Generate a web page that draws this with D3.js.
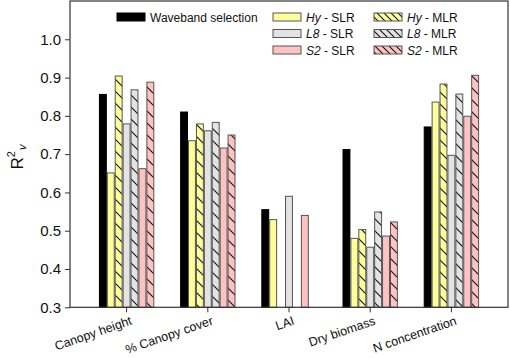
<!DOCTYPE html>
<html><head><meta charset="utf-8">
<script src="https://cdn.jsdelivr.net/npm/d3@7"></script>
<style>body{margin:0;background:#fff}svg{display:block}text{font-family:"Liberation Sans",Arial,sans-serif}</style>
</head><body>
<svg id="c" width="510" height="358"></svg>
<script>
const categories = ["Canopy height", "% Canopy cover", "LAI", "Dry biomass", "N concentration"];
const seriesKeys = ["wb", "hySLR", "hyMLR", "l8SLR", "l8MLR", "s2SLR", "s2MLR"];
const wb    = [0.856, 0.810, 0.555, 0.712, 0.771];
const hySLR = [0.651, 0.735, 0.529, 0.480, 0.836];
const hyMLR = [0.904, 0.779, null,  0.503, 0.883];
const l8SLR = [0.779, 0.761, 0.590, 0.457, 0.697];
const l8MLR = [0.868, 0.783, null,  0.549, 0.857];
const s2SLR = [0.662, 0.716, 0.540, 0.486, 0.799];
const s2MLR = [0.888, 0.750, null,  0.523, 0.906];
const yTicks = [0.3, 0.4, 0.5, 0.6, 0.7, 0.8, 0.9, 1.0];

const values = {wb, hySLR, hyMLR, l8SLR, l8MLR, s2SLR, s2MLR};
const fills = {wb:"#000000", hySLR:"#ffff99", hyMLR:"#ffff99", l8SLR:"#e3e3e3", l8MLR:"#e3e3e3", s2SLR:"#ffc2c2", s2MLR:"#ffc2c2"};
const hatched = {hyMLR:true, l8MLR:true, s2MLR:true};

const svg = d3.select("#c");
const L = 70, R = 508, T = 1, B = 307.3;
const y = d3.scaleLinear().domain([0.3, 1.1]).range([B, T]);
const x0 = d3.scaleBand().domain(categories).range([86, 492]).paddingInner(0.318).paddingOuter(0.159);
const x1 = d3.scaleBand().domain(seriesKeys).range([0, x0.bandwidth()]);

const defs = svg.append("defs");
function hatch(id, color, size) {
  const p = defs.append("pattern").attr("id", id).attr("patternUnits", "userSpaceOnUse")
    .attr("width", size).attr("height", size);
  p.append("rect").attr("width", size).attr("height", size).attr("fill", color);
  p.append("path").attr("d", `M0,0L${size},${size}M${-size/2},${size/2}L${size/2},${size*1.5}M${size/2},${-size/2}L${size*1.5},${size/2}`)
    .attr("stroke", "#111").attr("stroke-width", 1.1);
}
seriesKeys.forEach(k => { if (hatched[k]) { hatch("h_" + k, fills[k], 12); hatch("hl_" + k, fills[k], 7); } });
const fillFor = (k, leg) => hatched[k] ? `url(#${leg ? "hl_" : "h_"}${k})` : fills[k];

// bars
const g = svg.append("g");
categories.forEach((c, i) => {
  seriesKeys.forEach(k => {
    const v = values[k][i];
    if (v == null) return;
    g.append("rect")
      .attr("x", x0(c) + x1(k) + 0.5)
      .attr("y", y(v))
      .attr("width", x1.bandwidth() - 1)
      .attr("height", y(0.3) - y(v))
      .attr("fill", fillFor(k, false))
      .attr("stroke", k === "wb" ? "#000" : "#555")
      .attr("stroke-width", 1);
  });
});

// frame
svg.append("rect").attr("x", L).attr("y", T).attr("width", R - L).attr("height", B - T)
  .attr("fill", "none").attr("stroke", "#333").attr("stroke-width", 1.2);

// y axis
const ya = svg.append("g").attr("transform", `translate(${L},0)`)
  .call(d3.axisLeft(y).tickValues(yTicks).tickFormat(d3.format(".1f")).tickSize(5).tickSizeOuter(0));
ya.select(".domain").remove();
ya.selectAll("line").attr("stroke", "#333");
ya.selectAll("text").attr("font-size", 15).attr("fill", "#111").attr("x", -9);

// x axis
const xa = svg.append("g").attr("transform", `translate(0,${B})`)
  .call(d3.axisBottom(x0).tickSize(5).tickSizeOuter(0));
xa.select(".domain").remove();
xa.selectAll("line").attr("stroke", "#333");
xa.selectAll("text").remove();
categories.forEach(c => {
  const cx = x0(c) + x0.bandwidth() / 2;
  svg.append("text").attr("transform", `translate(${cx + 3},${B + 8}) rotate(-19)`)
    .attr("text-anchor", "end").attr("dy", "0.75em").attr("font-size", 12.5).attr("fill", "#111").text(c);
});

// y label
const yl = svg.append("text").attr("transform", "translate(23,157) rotate(-90)")
  .attr("text-anchor", "middle").attr("font-size", 17).attr("fill", "#111");
yl.append("tspan").text("R");
yl.append("tspan").attr("font-size", 11).attr("dy", -8).text("2");
yl.append("tspan").attr("font-size", 11).attr("font-style", "italic").attr("dy", 11).attr("dx", 1).text("v");

// legend
const legend = [
  {k:"wb", x:117, row:0, pre:"", post:"Waveband selection"},
  {k:"hySLR", x:273, row:0, pre:"Hy", post:" - SLR"},
  {k:"l8SLR", x:273, row:1, pre:"L8", post:" - SLR"},
  {k:"s2SLR", x:273, row:2, pre:"S2", post:" - SLR"},
  {k:"hyMLR", x:374, row:0, pre:"Hy", post:" - MLR"},
  {k:"l8MLR", x:374, row:1, pre:"L8", post:" - MLR"},
  {k:"s2MLR", x:374, row:2, pre:"S2", post:" - MLR"}
];
const rowY = [17, 33.5, 50];
legend.forEach(d => {
  const cy = rowY[d.row];
  svg.append("rect").attr("x", d.x).attr("y", cy - 4).attr("width", 28).attr("height", 8)
    .attr("fill", fillFor(d.k, true)).attr("stroke", d.k === "wb" ? "#000" : "#555").attr("stroke-width", 1);
  const t = svg.append("text").attr("x", d.x + 33).attr("y", cy + 4.5).attr("font-size", 12).attr("fill", "#111");
  if (d.pre) t.append("tspan").attr("font-style", "italic").text(d.pre);
  t.append("tspan").text(d.post);
});
</script>
</body></html>
